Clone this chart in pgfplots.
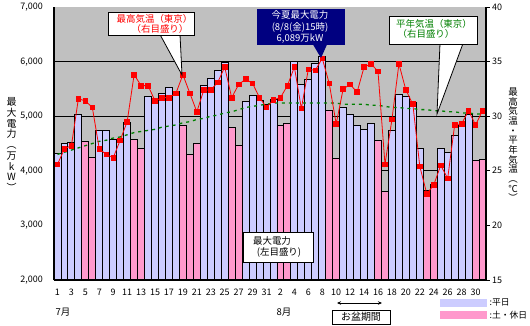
\documentclass[border=0pt]{standalone}
\usepackage{pgfplots}
\pgfplotsset{compat=1.18}
\usepackage{fontspec}
\setmainfont{Noto Sans CJK JP}
\usetikzlibrary{arrows.meta}
\definecolor{wkday}{HTML}{CCCCFF}
\definecolor{holi}{HTML}{FF99CC}
\definecolor{plotbg}{HTML}{C0C0C0}
\definecolor{navyblue}{HTML}{000080}
\definecolor{grn}{HTML}{008000}
\definecolor{tred}{HTML}{FF0000}
\begin{document}
\begin{tikzpicture}
\path[use as bounding box] (-54bp,-46bp) rectangle (476bp,280bp);
\begin{axis}[
  at={(0bp,0bp)}, anchor=south west,
  scale only axis, width=432bp, height=273bp,
  xmin=0.5, xmax=62.5, ymin=2000, ymax=7000,
  axis background/.style={fill=plotbg},
  axis x line*=bottom, axis y line*=left,
  axis line style={-, line width=1.3bp},
  ytick={2000,3000,...,7000},
  extra y ticks={3000,4000,5000,6000},
  extra y tick labels={},
  extra y tick style={grid=major, major tick length=0pt},
  major grid style={black, line width=0.8bp},
  major tick length=0pt,
  xtick={1,3,...,61},
  xticklabels={1,3,5,7,9,11,13,15,17,19,21,23,25,27,29,31,2,4,6,8,10,12,14,16,18,20,22,24,26,28,30},
  xticklabel style={anchor=center, yshift=-12.5bp, inner sep=0pt, font=\fontsize{9}{10}\selectfont},
  yticklabel style={anchor=east, inner sep=0pt, xshift=-11bp, font=\fontsize{9}{10}\selectfont},
  /pgf/number format/assume math mode=true,
  /pgf/number format/1000 sep={,},
  scaled y ticks=false,
  legend style={at={(0.8935,-0.0696)}, anchor=north west, draw=none, fill=none,
    inner sep=0pt, row sep=3.5bp, column sep=2.5bp, font=\fontsize{8.8}{10}\selectfont,
    nodes={inner sep=0pt}},
  legend cell align=left,
]
\addplot[ybar, bar width=1, bar shift=0pt, fill=wkday, draw=black, line width=0.9bp,
  legend image code/.code={\fill[wkday] (0bp,-3.5bp) rectangle (46bp,3.5bp);}]
  table[x=x, y=p] {
x p
1 4310
2 4500
3 4520
4 5030
7 4740
8 4740
9 4580
10 4580
11 4890
14 5360
15 5290
16 5410
17 5520
18 5450
22 5560
23 5700
24 5830
25 5990
28 5270
29 5380
30 5290
31 5210
32 5300
35 6010
36 5580
37 5680
38 5975
39 6089
42 5160
43 5030
44 4830
45 4760
46 4870
49 4730
50 5400
51 5360
52 5260
53 4410
56 4410
57 4340
58 4650
59 4830
60 5030
};
\addlegendentry{:平日}
\addplot[ybar, bar width=1, bar shift=0pt, fill=holi, draw=black, line width=0.9bp,
  legend image code/.code={\fill[holi] (0bp,-3.5bp) rectangle (46bp,3.5bp);}]
  table[x=x, y=p] {
x p
5 4545
6 4250
12 4580
13 4410
19 4830
20 4300
21 4500
26 4790
27 4470
33 4830
34 4870
40 5100
41 4230
47 4560
48 3630
54 3640
55 3745
61 4195
62 4210
};
\addlegendentry{:土・休日}
\end{axis}
\begin{axis}[
  at={(0bp,0bp)}, anchor=south west,
  scale only axis, width=432bp, height=273bp,
  xmin=0.5, xmax=62.5, ymin=15, ymax=40,
  axis x line*=bottom, axis y line*=right,
  axis line style={-, line width=1.1bp},
  xtick=\empty,
  ytick={15,20,...,40},
  tick align=outside, major tick length=3.5bp,
  tick style={black, line width=0.8bp},
  yticklabel style={anchor=west, inner sep=0pt, xshift=2.5bp, font=\fontsize{9}{10}\selectfont},
  /pgf/number format/assume math mode=true,
]
\addplot[grn, line width=1.3bp, dash pattern=on 3bp off 4bp] table[x=x, y=t] {
x t
1 26.5
2 26.7
3 26.9
4 27.1
5 27.3
6 27.5
7 27.7
8 27.8
9 28.0
10 28.1
11 28.3
12 28.5
13 28.6
14 28.7
15 28.8
16 29.0
17 29.1
18 29.2
19 29.4
20 29.5
21 29.7
22 29.8
23 30.0
24 30.1
25 30.3
26 30.4
27 30.6
28 30.8
29 30.9
30 31.0
31 31.1
32 31.2
33 31.2
34 31.2
35 31.2
36 31.2
37 31.2
38 31.2
39 31.2
40 31.2
41 31.2
42 31.1
43 31.1
44 31.1
45 31.1
46 31.0
47 31.0
48 30.9
49 30.8
50 30.8
51 30.7
52 30.7
53 30.6
54 30.6
55 30.5
56 30.5
57 30.4
58 30.4
59 30.3
60 30.3
61 30.2
62 30.2
};
\addplot[tred, line width=0.8bp, mark=square*, mark size=2.3bp, mark options={solid, fill=tred, draw=tred}] table[x=x, y=t] {
x t
1 25.6
2 27.0
3 27.3
4 31.6
5 31.4
6 30.8
7 27.0
8 26.5
9 26.2
10 27.8
11 29.5
12 33.8
13 32.8
14 32.8
15 31.4
16 31.7
17 31.7
18 32.1
19 33.8
20 32.1
21 30.4
22 32.4
23 32.4
24 33.1
25 34.5
26 31.7
27 32.9
28 33.4
29 33.0
30 31.7
31 30.8
32 31.5
33 31.7
34 32.8
35 34.5
36 30.7
37 34.3
38 34.2
39 35.3
40 33.0
41 29.3
42 32.5
43 32.9
44 32.2
45 34.5
46 34.8
47 34.1
48 25.6
49 29.7
50 34.8
51 32.4
52 31.1
53 25.4
54 22.9
55 23.7
56 25.5
57 24.3
58 29.2
59 29.3
60 30.5
61 29.2
62 30.5
};
\end{axis}
\draw[black, line width=1.5bp] (0bp,0bp) -- (0bp,273bp);
% axis titles
\node[align=center, font=\fontsize{10}{10.8}\selectfont] at (-42.5bp,135.5bp)
  {最\\大\\電\\力\\︵\\万\\k\\W\\︶};
\node[align=center, font=\fontsize{9.5}{9.7}\selectfont] at (459bp,135bp)
  {最\\高\\気\\温\\・\\平\\年\\気\\温\\︵\\℃\\︶};
% month labels
\node[font=\fontsize{9.5}{10}\selectfont] at (9bp,-32bp) {7月};
\node[font=\fontsize{9.5}{10}\selectfont] at (230bp,-32bp) {8月};
% obon
\draw[black, line width=0.8bp, {Stealth[length=4bp,width=3.5bp]}-{Stealth[length=4bp,width=3.5bp]}] (283bp,-23bp) -- (328bp,-23bp);
\draw[black, line width=0.9bp, fill=white] (278bp,-30bp) rectangle (336bp,-44bp);
\node[font=\fontsize{10}{10}\selectfont] at (307bp,-37bp) {お盆期間};
% red callout
\fill[white] (106bp,245.5bp) -- (128bp,205bp) -- (126bp,245.5bp) -- cycle;
\draw[black, line width=0.8bp] (106bp,245.5bp) -- (128bp,205bp) -- (126bp,245.5bp);
\draw[black, line width=0.9bp, fill=white] (54bp,268bp) rectangle (140bp,245bp);
\node[tred, font=\fontsize{9.5}{10}\selectfont] at (100.5bp,261bp) {最高気温（東京）};
\node[tred, font=\fontsize{9.5}{10}\selectfont] at (106bp,251bp) {（右目盛り）};
% navy callout
\fill[navyblue] (259bp,235.5bp) -- (267bp,222bp) -- (273bp,235.5bp) -- cycle;
\fill[navyblue] (203bp,271bp) rectangle (291bp,235bp);
\node[white, align=center, font=\fontsize{9.5}{11.5}\selectfont] at (246bp,253bp)
  {今夏最大電力\\(8/8(金)15時)\\6,089万kW};
% green callout
\fill[white] (386bp,236.5bp) -- (383bp,166bp) -- (409bp,236.5bp) -- cycle;
\draw[black, line width=0.8bp] (386bp,236.5bp) -- (383bp,166bp) -- (409bp,236.5bp);
\draw[black, line width=0.9bp, fill=white] (335bp,264bp) rectangle (423bp,236bp);
\node[grn, font=\fontsize{9.5}{10}\selectfont] at (380bp,256bp) {平年気温（東京）};
\node[grn, font=\fontsize{9.5}{10}\selectfont] at (372bp,246bp) {（右目盛り）};
% black box
\draw[black, line width=0.9bp, fill=white] (189bp,48bp) rectangle (259bp,18bp);
\node[font=\fontsize{9.5}{10}\selectfont] at (218bp,39bp) {最大電力};
\node[font=\fontsize{9.5}{10}\selectfont] at (225bp,28bp) {(左目盛り)};
\end{tikzpicture}
\end{document}
